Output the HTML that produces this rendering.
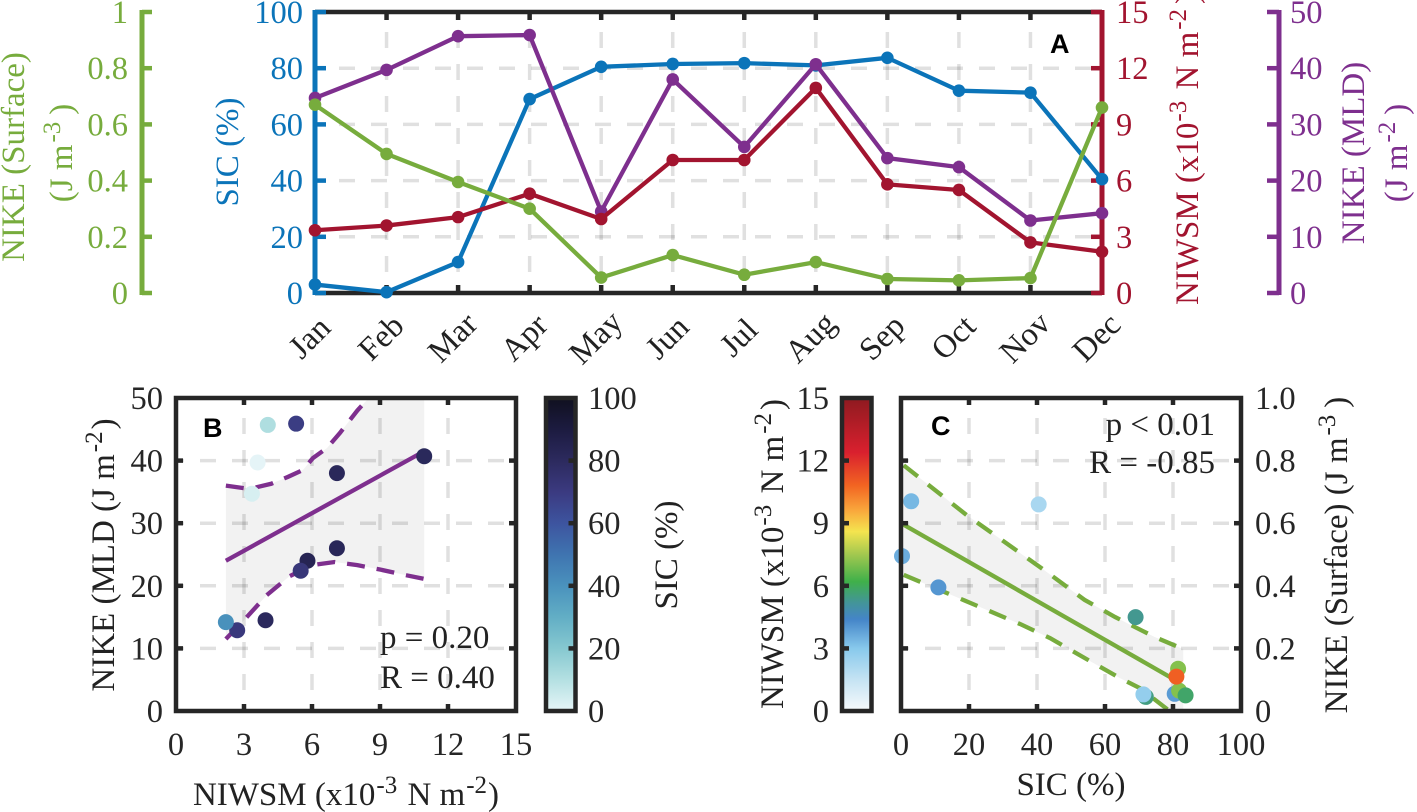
<!DOCTYPE html>
<html lang="en">
<head>
<meta charset="utf-8">
<title>NIKE, SIC and NIWSM seasonal chart</title>
<style>
html,body{margin:0;padding:0;background:#fff;}
svg{display:block;font-family:"Liberation Serif",serif;}
.t{font-size:33px;}
.k{font-size:32.5px;fill:#222;}
.l{font-family:"Liberation Sans",sans-serif;font-weight:bold;font-size:27px;fill:#000;}
</style>
</head>
<body>
<svg id="fig" xmlns="http://www.w3.org/2000/svg" width="1417" height="812" viewBox="0 0 1417 812">
<defs>
<clipPath id="clipB"><rect x="176" y="398" width="340" height="313"/></clipPath>
<clipPath id="clipC"><rect x="901" y="398" width="340" height="313"/></clipPath>
<linearGradient id="gradSic" x1="0" y1="1" x2="0" y2="0"></linearGradient>
<linearGradient id="gradNiwsm" x1="0" y1="1" x2="0" y2="0"></linearGradient>
</defs>
<g id="layer"></g>

<g>
<text class="t" fill="#77ac3d" transform="translate(24,157) rotate(-90)" text-anchor="middle">NIKE (Surface)</text>
<text class="t" fill="#77ac3d" transform="translate(72,153) rotate(-90)" text-anchor="middle">(J m<tspan font-size="25" dy="-12" dx="2">-3</tspan><tspan dy="12" dx="7">)</tspan></text>
<text class="t" fill="#0b74b9" transform="translate(238,152) rotate(-90)" text-anchor="middle">SIC (%)</text>
<text class="t" fill="#a2142f" transform="translate(1198,305) rotate(-90)">NIWSM (x10<tspan font-size="25" dy="-12" dx="1">-3</tspan><tspan dy="12" dx="3"> N m</tspan><tspan font-size="25" dy="-12" dx="2">-2</tspan><tspan dy="12" dx="5">)</tspan></text>
<text class="t" fill="#7e2f8e" transform="translate(1364,153) rotate(-90)" text-anchor="middle">NIKE (MLD)</text>
<text class="t" fill="#7e2f8e" transform="translate(1407,153) rotate(-90)" text-anchor="middle">(J m<tspan font-size="25" dy="-12" dx="2">-2</tspan><tspan dy="12" dx="7">)</tspan></text>

<text class="t" fill="#222" transform="translate(114,555) rotate(-90)" text-anchor="middle">NIKE (MLD (J m<tspan font-size="25" dy="-12" dx="2">-2</tspan><tspan dy="12" dx="2">)</tspan></text>
<text class="t" fill="#222" x="346" y="805" text-anchor="middle">NIWSM (x10<tspan font-size="25" dy="-12" dx="1">-3</tspan><tspan dy="12" dx="2"> N m</tspan><tspan font-size="25" dy="-12" dx="1">-2</tspan><tspan dy="12" dx="1">)</tspan></text>
<text class="t" fill="#222" transform="translate(677,555) rotate(-90)" text-anchor="middle">SIC (%)</text>

<text class="t" fill="#222" transform="translate(783,554) rotate(-90)" text-anchor="middle">NIWSM (x10<tspan font-size="25" dy="-12" dx="1">-3</tspan><tspan dy="12" dx="3"> N m</tspan><tspan font-size="25" dy="-12" dx="2">-2</tspan><tspan dy="12" dx="3">)</tspan></text>
<text class="t" fill="#222" x="1071" y="795" text-anchor="middle">SIC (%)</text>
<text class="t" fill="#222" transform="translate(1347,555) rotate(-90)" text-anchor="middle">NIKE (Surface) (J m<tspan font-size="25" dy="-12" dx="2">-3</tspan><tspan dy="12" dx="7">)</tspan></text>
</g>

<g>
<text class="l" x="1050" y="53">A</text>
<text class="l" x="203" y="437">B</text>
<text class="l" x="931" y="435">C</text>
<text class="t" fill="#222" x="380" y="648">p = 0.20</text>
<text class="t" fill="#222" x="380" y="688">R = 0.40</text>
<text class="t" fill="#222" x="1215" y="435" text-anchor="end">p &lt; 0.01</text>
<text class="t" fill="#222" x="1215" y="473" text-anchor="end">R = -0.85</text>
</g>
</svg>

<script>
// ---- chart data ----
const months = ["Jan","Feb","Mar","Apr","May","Jun","Jul","Aug","Sep","Oct","Nov","Dec"];
const sicValues = [3, 0.3, 11, 69, 80.5, 81.5, 81.8, 81, 83.7, 72, 71.3, 40.5];
const surfaceValues = [0.67, 0.495, 0.395, 0.30, 0.055, 0.135, 0.065, 0.11, 0.05, 0.045, 0.053, 0.66];
const niwsmValues = [3.35, 3.6, 4.05, 5.3, 3.95, 7.1, 7.1, 10.95, 5.8, 5.5, 2.7, 2.2];
const mldValues = [34.7, 39.7, 45.7, 45.9, 14.5, 38, 26, 40.7, 24, 22.4, 12.9, 14.2];

const surfaceTicks = ["0","0.2","0.4","0.6","0.8","1"];
const sicTicks = [0,20,40,60,80,100];
const niwsmTicks = [0,3,6,9,12,15];
const mldTicks = [0,10,20,30,40,50];
const surfaceTicksC = ["0","0.2","0.4","0.6","0.8","1.0"];

const fitBx = [2.2, 10.95];
const fitBy = [24, 41.5];
const upperBx = [2.2, 3, 3.5, 4.2, 4.94, 5.6, 6.04, 6.66, 7.23, 8, 8.43, 8.7];
const upperBy = [36, 35.6, 35.7, 36.3, 37.4, 38.5, 40.4, 42, 44.4, 48, 49.7, 51];
const lowerBx = [2.2, 3, 4, 5, 6, 7, 8, 9, 10, 10.95];
const lowerBy = [11.5, 14.5, 18.5, 21.5, 23.3, 23.8, 23.3, 22.6, 21.8, 21.1];

const fitCx = [0.8, 80.5];
const fitCy = [0.595, 0.10];
const upperCx = [0.8, 19.3, 41.5, 54, 63, 74.7, 83];
const upperCy = [0.785, 0.626, 0.455, 0.355, 0.30, 0.236, 0.198];
const lowerCx = [0.8, 18.7, 35, 43.8, 56, 64.4, 70.3, 79, 83];
const lowerCy = [0.435, 0.353, 0.278, 0.233, 0.157, 0.105, 0.073, 0, -0.03];

const sicCmapValues = [0, 10, 20, 30, 40, 50, 60, 70, 80, 90, 100];
const sicCmapColors = ["#e6f5f8","#b4e0e2","#86c8d0","#62aec5","#4a92bd","#3f74b0","#3d549f","#3b3a80","#2c2a5e","#1c1b40","#10101f"];
const niwsmCmapValues = [0, 1.5, 3, 4.4, 5.2, 6.2, 7.5, 8.6, 9.6, 10.8, 12.4, 15];
const niwsmCmapColors = ["#f7fafc","#c5e3f3","#88c9ec","#4485c8","#439598","#3fb04a","#a2c84f","#f4e44f","#f9a83c","#f26522","#d9202e","#8e1a20"];

// ---- helpers ----
const NS = "http://www.w3.org/2000/svg";
const layer = document.getElementById("layer");
const BLUE="#0b74b9", GREEN="#77ac3d", RED="#a2142f", PURPLE="#7e2f8e", INK="#262626";

function mk(tag, attrs, parent){
  const n = document.createElementNS(NS, tag);
  for (const a in attrs) n.setAttribute(a, attrs[a]);
  (parent || layer).appendChild(n);
  return n;
}
function hex(c){ return [1,3,5].map(i=>parseInt(c.substr(i,2),16)); }
function cmap(v, vals, cols){
  if (v <= vals[0]) return cols[0];
  for (let i=1;i<vals.length;i++){
    if (v <= vals[i]){
      const f=(v-vals[i-1])/(vals[i]-vals[i-1]), a=hex(cols[i-1]), b=hex(cols[i]);
      return "rgb("+a.map((x,j)=>Math.round(x+(b[j]-x)*f)).join(",")+")";
    }
  }
  return cols[cols.length-1];
}
function scale(d0,d1,p0,p1){ return v => p0+(v-d0)/(d1-d0)*(p1-p0); }
function pts(xs,ys,fx,fy){ return xs.map((x,i)=>fx(x)+","+fy(ys[i])).join(" "); }

// fill gradients
sicCmapValues.forEach((v,i)=>{
  mk("stop",{offset:(v/100),"stop-color":sicCmapColors[i]},document.getElementById("gradSic"));
});
niwsmCmapValues.forEach((v,i)=>{
  mk("stop",{offset:(v/15),"stop-color":niwsmCmapColors[i]},document.getElementById("gradNiwsm"));
});

function gridLines(g, xs, ys, x0, x1, y0, y1){
  xs.forEach(px=>{
    const el = mk("line",{x1:px,x2:px,y1:y0,y2:y1,stroke:"rgba(0,0,0,0.12)","stroke-width":3.5,"stroke-dasharray":"16 16","stroke-dashoffset":12},g);
    
    
  });
  ys.forEach(py=>{
    const el = mk("line",{x1:x0,x2:x1,y1:py,y2:py,stroke:"rgba(0,0,0,0.12)","stroke-width":3.5,"stroke-dasharray":"16 16","stroke-dashoffset":8},g);
    
    
  });
}
function tickMark(g,x1,y1,x2,y2,color){
  const el = mk("line",{x1,y1,x2,y2,stroke:color,"stroke-width":4.5},g);
  
  
}
function tickText(g,x,y,str,anchor,color){
  const el = mk("text",{x,y,"text-anchor":anchor,class:"k",style:"fill:"+color},g);
  el.textContent = str;
  
  
}

// ---- PANEL A ----
const A = {l:315, r:1102, t:12, b:293};
const gA = mk("g",{});


const xA = i => A.l + i*(A.r-A.l)/(months.length-1);
const ySic = scale(0,100,A.b,A.t);
const ySurf = scale(0,1,A.b,A.t);
const yNiw = scale(0,15,A.b,A.t);
const yMld = scale(0,50,A.b,A.t);

gridLines(gA, months.map((m,i)=>xA(i)).slice(1,-1), sicTicks.slice(1,-1).map(ySic), A.l, A.r, A.t, A.b);

// frame top / bottom + ticks
const topLine = mk("line",{x1:A.l,x2:A.r,y1:A.t,y2:A.t,stroke:INK,"stroke-width":4.5},gA);


const botLine = mk("line",{x1:A.l,x2:A.r,y1:A.b,y2:A.b,stroke:INK,"stroke-width":4.5},gA);


months.forEach((m,i)=>{
  const px = xA(i);
  if (i>0 && i<months.length-1){
    tickMark(gA,px,A.t,px,A.t+8,INK);
    tickMark(gA,px,A.b,px,A.b-8,INK);
  }
  const lab = mk("text",{transform:"translate("+(px+2)+",345) rotate(-45)","text-anchor":"middle",class:"k"},gA);
  lab.textContent = m;
  
  
});

// SIC axis (left, blue)
const sicAxis = mk("line",{x1:A.l,x2:A.l,y1:A.t-2,y2:A.b+2,stroke:BLUE,"stroke-width":5},gA);


sicTicks.forEach(v=>{
  tickMark(gA,A.l,ySic(v),A.l+11,ySic(v),BLUE);
  tickText(gA,303,ySic(v)+11,String(v),"end",BLUE);
});
// NIWSM axis (right, red)
const niwAxis = mk("line",{x1:A.r,x2:A.r,y1:A.t-2,y2:A.b+2,stroke:RED,"stroke-width":5},gA);


niwsmTicks.forEach(v=>{
  tickMark(gA,A.r,yNiw(v),A.r-11,yNiw(v),RED);
  tickText(gA,1116,yNiw(v)+11,String(v),"start",RED);
});
// Surface axis (far left, green)
const surfAxis = mk("line",{x1:142,x2:142,y1:A.t-2,y2:A.b+2,stroke:GREEN,"stroke-width":5},gA);


surfaceTicks.forEach(s=>{
  const v = parseFloat(s);
  tickMark(gA,142,ySurf(v),152,ySurf(v),GREEN);
  tickText(gA,128,ySurf(v)+11,s,"end",GREEN);
});
// MLD axis (far right, purple)
const mldAxis = mk("line",{x1:1279,x2:1279,y1:A.t-2,y2:A.b+2,stroke:PURPLE,"stroke-width":5},gA);


mldTicks.forEach(v=>{
  tickMark(gA,1279,yMld(v),1267,yMld(v),PURPLE);
  tickText(gA,1290,yMld(v)+11,String(v),"start",PURPLE);
});

function series(vals, fy, color, name){
  const g = mk("g",{},gA);
  
  
  const pl = mk("polyline",{points:vals.map((v,i)=>xA(i)+","+fy(v)).join(" "),fill:"none",stroke:color,"stroke-width":4.3,"stroke-linejoin":"round"},g);
  
  
  vals.forEach((v,i)=>{
    const c = mk("circle",{cx:xA(i),cy:fy(v),r:6.3,fill:color},g);
    
    
  });
}
series(sicValues, ySic, BLUE, "sic");
series(mldValues, yMld, PURPLE, "nike-mld");
series(niwsmValues, yNiw, RED, "niwsm");
series(surfaceValues, ySurf, GREEN, "nike-surface");

// ---- PANEL B ----
const B = {l:176, r:516, t:398, b:711};
const gB = mk("g",{});


const xB = scale(0,15,B.l,B.r);
const yB = scale(0,50,B.b,B.t);

const bandB = mk("polygon",{points:pts(upperBx,upperBy,xB,yB)+" "+xB(fitBx[1])+","+yB(55)+" "+pts(lowerBx.slice().reverse(),lowerBy.slice().reverse(),xB,yB),fill:"#f2f2f2","clip-path":"url(#clipB)"},gB);


gridLines(gB, niwsmTicks.slice(1,-1).map(xB), mldTicks.slice(1,-1).map(yB), B.l, B.r, B.t, B.b);
const fitB = mk("polyline",{points:pts(fitBx,fitBy,xB,yB),fill:"none",stroke:PURPLE,"stroke-width":4.3},gB);


const upB = mk("polyline",{points:pts(upperBx,upperBy,xB,yB),fill:"none",stroke:PURPLE,"stroke-width":4.3,"stroke-dasharray":"18 12","clip-path":"url(#clipB)"},gB);


const loB = mk("polyline",{points:pts(lowerBx,lowerBy,xB,yB),fill:"none",stroke:PURPLE,"stroke-width":4.3,"stroke-dasharray":"18 12"},gB);


niwsmValues.forEach((v,i)=>{
  const c = mk("circle",{cx:xB(v),cy:yB(mldValues[i]),r:8,fill:cmap(sicValues[i],sicCmapValues,sicCmapColors)},gB);
  
  
});
const boxB = mk("rect",{x:B.l,y:B.t,width:B.r-B.l,height:B.b-B.t,fill:"none",stroke:INK,"stroke-width":4.5},gB);


niwsmTicks.forEach(v=>{
  if (v>0 && v<15){ tickMark(gB,xB(v),B.t,xB(v),B.t+7,INK); tickMark(gB,xB(v),B.b,xB(v),B.b-7,INK); }
  tickText(gB,xB(v),755,String(v),"middle",INK);
});
mldTicks.forEach(v=>{
  if (v>0 && v<50){ tickMark(gB,B.l,yB(v),B.l+7,yB(v),INK); tickMark(gB,B.r,yB(v),B.r-7,yB(v),INK); }
  tickText(gB,163,yB(v)+11,String(v),"end",INK);
});

// colorbar SIC
const cbS = {l:546, r:575.5, t:398, b:711};
const gCbS = mk("g",{});


const rectS = mk("rect",{x:cbS.l,y:cbS.t,width:cbS.r-cbS.l,height:cbS.b-cbS.t,fill:"url(#gradSic)",stroke:INK,"stroke-width":4.5},gCbS);


const yCS = scale(0,100,cbS.b,cbS.t);
sicTicks.forEach(v=>{
  if (v>0 && v<100) tickMark(gCbS,cbS.r,yCS(v),cbS.r-7,yCS(v),INK);
  tickText(gCbS,588,yCS(v)+11,String(v),"start",INK);
});

// ---- PANEL C ----
const C = {l:901, r:1241, t:398, b:711};
const gC = mk("g",{});


const xC = scale(0,100,C.l,C.r);
const yC = scale(0,1,C.b,C.t);

const bandC = mk("polygon",{points:pts(upperCx,upperCy,xC,yC)+" "+pts(lowerCx.slice().reverse(),lowerCy.slice().reverse(),xC,yC),fill:"#f2f2f2","clip-path":"url(#clipC)"},gC);


gridLines(gC, sicTicks.slice(1,-1).map(xC), surfaceTicksC.slice(1,-1).map(s=>yC(parseFloat(s))), C.l, C.r, C.t, C.b);
const fitC = mk("polyline",{points:pts(fitCx,fitCy,xC,yC),fill:"none",stroke:GREEN,"stroke-width":4.3},gC);


const upC = mk("polyline",{points:pts(upperCx,upperCy,xC,yC),fill:"none",stroke:GREEN,"stroke-width":4.3,"stroke-dasharray":"18 13"},gC);


const loC = mk("polyline",{points:pts(lowerCx,lowerCy,xC,yC),fill:"none",stroke:GREEN,"stroke-width":4.3,"stroke-dasharray":"18 13","clip-path":"url(#clipC)"},gC);


sicValues.forEach((v,i)=>{
  const c = mk("circle",{cx:xC(v),cy:yC(surfaceValues[i]),r:8,fill:cmap(niwsmValues[i],niwsmCmapValues,niwsmCmapColors)},gC);
  
  
});
const boxC = mk("rect",{x:C.l,y:C.t,width:C.r-C.l,height:C.b-C.t,fill:"none",stroke:INK,"stroke-width":4.5},gC);


sicTicks.forEach(v=>{
  if (v>0 && v<100){ tickMark(gC,xC(v),C.t,xC(v),C.t+7,INK); tickMark(gC,xC(v),C.b,xC(v),C.b-7,INK); }
  tickText(gC,xC(v),755,String(v),"middle",INK);
});
surfaceTicksC.forEach(s=>{
  const v = parseFloat(s);
  if (v>0 && v<1){ tickMark(gC,C.l,yC(v),C.l+7,yC(v),INK); tickMark(gC,C.r,yC(v),C.r-7,yC(v),INK); }
  tickText(gC,1255,yC(v)+11,s,"start",INK);
});

// colorbar NIWSM
const cbN = {l:842, r:871.5, t:398, b:711};
const gCbN = mk("g",{});


const rectN = mk("rect",{x:cbN.l,y:cbN.t,width:cbN.r-cbN.l,height:cbN.b-cbN.t,fill:"url(#gradNiwsm)",stroke:INK,"stroke-width":4.5},gCbN);


const yCN = scale(0,15,cbN.b,cbN.t);
niwsmTicks.forEach(v=>{
  if (v>0 && v<15) tickMark(gCbN,cbN.l,yCN(v),cbN.l+7,yCN(v),INK);
  tickText(gCbN,829,yCN(v)+11,String(v),"end",INK);
});
</script>
</body>
</html>
